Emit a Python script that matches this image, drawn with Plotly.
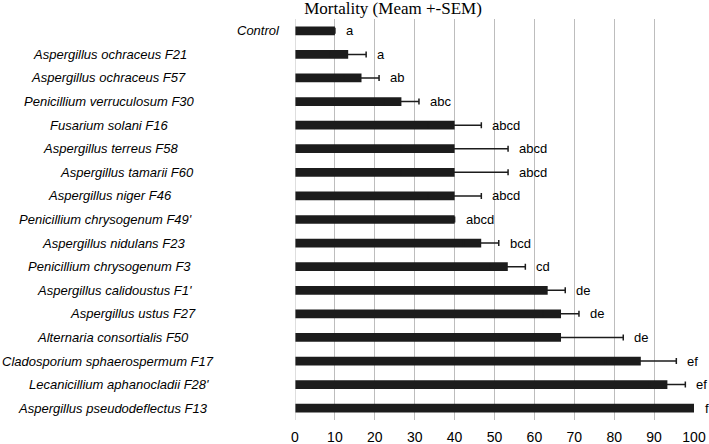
import plotly.graph_objects as go

names = [
    "Control",
    "Aspergillus ochraceus F21",
    "Aspergillus ochraceus F57",
    "Penicillium verruculosum F30",
    "Fusarium solani F16",
    "Aspergillus terreus F58",
    "Aspergillus tamarii F60",
    "Aspergillus niger F46",
    "Penicillium chrysogenum F49'",
    "Aspergillus nidulans F23",
    "Penicillium chrysogenum F3",
    "Aspergillus calidoustus F1'",
    "Aspergillus ustus F27",
    "Alternaria consortialis F50",
    "Cladosporium sphaerospermum F17",
    "Lecanicillium aphanocladii F28'",
    "Aspergillus pseudodeflectus F13",
]
mortality = [10, 13.33, 16.67, 26.67, 40, 40, 40, 40, 40, 46.67, 53.33, 63.33, 66.67, 66.67, 86.67, 93.33, 100]
sem = [0, 4.5, 4.4, 4.4, 6.7, 13.4, 13.4, 6.7, 0, 4.4, 4.4, 4.4, 4.5, 15.6, 8.9, 4.5, 0]
letters = ["a", "a", "ab", "abc", "abcd", "abcd", "abcd", "abcd", "abcd", "bcd", "cd", "de", "de", "de", "ef", "ef", "f"]
x_ticks = [0, 10, 20, 30, 40, 50, 60, 70, 80, 90, 100]

# layout: horizontal pixel centres of the category labels
label_centres_px = [258, 110, 108, 109, 109, 110, 127, 110, 105, 113, 109, 114, 133, 113, 108, 119, 113]

W, H = 709, 444
L, R, T, B = 295, 15, 19, 24
plot_w = W - L - R

fig = go.Figure()
fig.add_trace(go.Bar(
    x=mortality, y=names, orientation="h",
    marker=dict(color="#1c1c1c", line=dict(width=0)),
    width=0.37,
    error_x=dict(type="data", array=sem, visible=True, color="#1c1c1c", thickness=1.5, width=3),
    hoverinfo="x+y",
))

annotations = []
for n, c in zip(names, label_centres_px):
    annotations.append(dict(
        x=(c - L) / plot_w, xref="paper", y=n, yref="y",
        text="<i>" + n + "</i>", showarrow=False, xanchor="center", yanchor="middle",
        font=dict(family="Liberation Sans, Arial, sans-serif", size=13, color="#000000"),
    ))
for n, v, e, l in zip(names, mortality, sem, letters):
    annotations.append(dict(
        x=v + e, xref="x", y=n, yref="y", text=l, showarrow=False,
        xanchor="left", yanchor="middle", xshift=9,
        font=dict(family="Liberation Sans, Arial, sans-serif", size=13, color="#000000"),
    ))

fig.update_layout(
    width=W, height=H,
    margin=dict(l=L, r=R, t=T, b=B, autoexpand=False),
    paper_bgcolor="white", plot_bgcolor="white",
    title=dict(text="Mortality (Meam +-SEM)", x=393 / W, xref="container", xanchor="center",
               y=1 - 8 / H, yref="container", yanchor="middle",
               font=dict(family="Liberation Serif, Times New Roman, serif", size=17, color="#000000")),
    showlegend=False,
    annotations=annotations,
    bargap=0.64,
)
fig.update_xaxes(range=[0, 100], tickvals=x_ticks, showgrid=True, gridcolor="#bdbdbd", gridwidth=1,
                 zeroline=False, showline=False, ticks="", ticklabelstandoff=7,
                 tickfont=dict(family="Liberation Sans, Arial, sans-serif", size=14, color="#000000"))
fig.update_yaxes(categoryorder="array", categoryarray=names, autorange="reversed",
                 showticklabels=False, showgrid=False, zeroline=False, showline=False, ticks="")
fig.add_vline(x=0, line=dict(color="#bdbdbd", width=1))

fig.write_html("out.html", config={"displayModeBar": False},
               post_script="document.body.style.margin='0';document.body.style.overflow='hidden';")
